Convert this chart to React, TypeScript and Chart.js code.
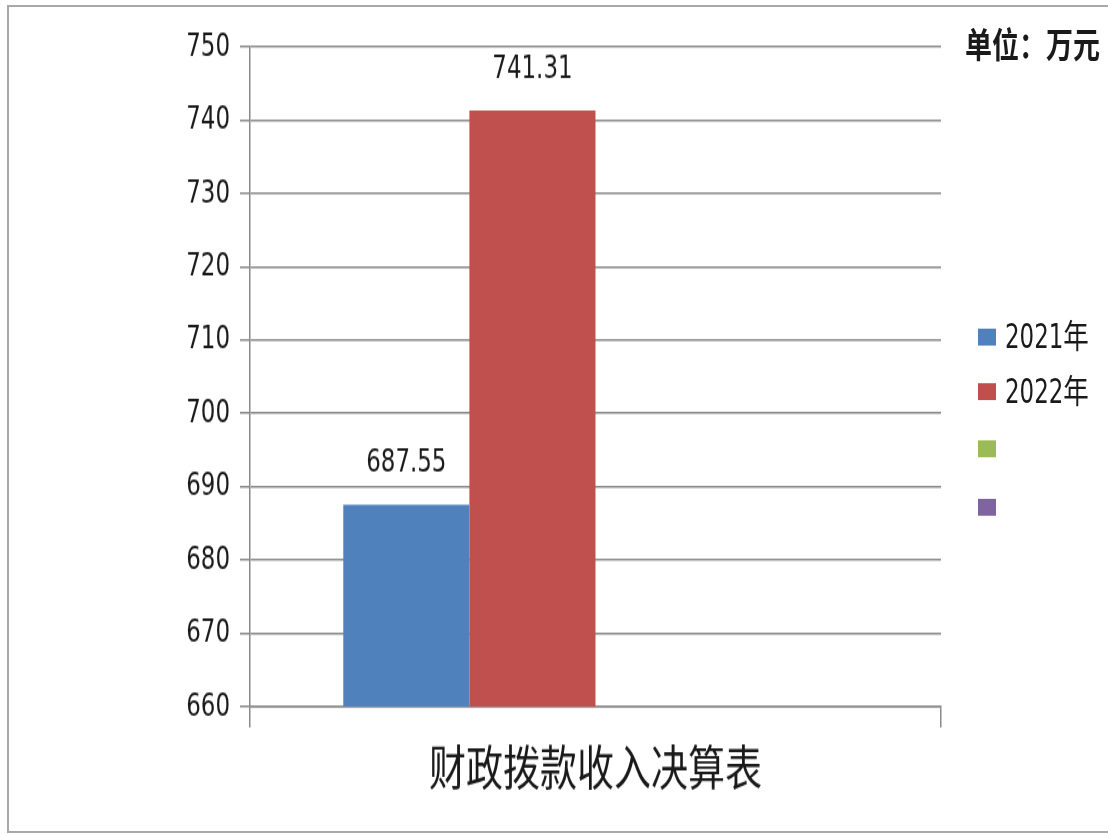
import React, { useEffect, useRef } from "react";
import { Chart, registerables } from "chart.js";

Chart.register(...registerables);

// ---- data ----
const categories = ["财政拨款收入决算表"];
const seriesNames = ["2021年", "2022年", "", ""];
const values2021: (number | null)[] = [687.55];
const values2022: (number | null)[] = [741.31];
const values3: (number | null)[] = [null];
const values4: (number | null)[] = [null];
const seriesColors = ["#4F81BD", "#C0504D", "#9BBB59", "#8064A2"];
const yMin = 660;
const yMax = 750;
const yStep = 10;
const unitText = "单位：万元";

// ---- layout ----
const W = 1108;
const H = 834;
const INNER_H = 642;
const SY = H / INNER_H;

const NUM_FONT = '"Liberation Sans Narrow", "DejaVu Sans Condensed", "Noto Sans CJK SC", sans-serif';
const CJK_FONT = '"Noto Sans CJK SC", sans-serif';
const TEXT = "#1a1a1a";
const GRID = "#8a8a8a";

const valueLabels = {
  id: "valueLabels",
  afterDatasetsDraw(chart: any) {
    const ctx = chart.ctx;
    ctx.save();
    ctx.font = `25.5px ${NUM_FONT}`;
    ctx.fillStyle = TEXT;
    ctx.textAlign = "center";
    ctx.textBaseline = "middle";
    chart.data.datasets.forEach((ds: any, di: number) => {
      const meta = chart.getDatasetMeta(di);
      meta.data.forEach((el: any, i: number) => {
        const v = ds.data[i];
        if (v === null || v === undefined) return;
        ctx.fillText(Number(v).toFixed(2), el.x, el.y - 32);
      });
    });
    ctx.restore();
  },
};

export default function App() {
  const ref = useRef<HTMLCanvasElement | null>(null);

  useEffect(() => {
    if (!ref.current) return;
    const seriesData = [values2021, values2022, values3, values4];
    const chart = new Chart(ref.current, {
      type: "bar",
      data: {
        labels: categories,
        datasets: seriesData.map((d, i) => ({
          label: seriesNames[i],
          data: d,
          backgroundColor: seriesColors[i],
          borderWidth: 0,
          barPercentage: 1,
          categoryPercentage: 0.73,
        })),
      },
      options: {
        responsive: false,
        animation: false,
        devicePixelRatio: 1,
        layout: { padding: { left: 0, right: W - 941, top: 36, bottom: 0 } },
        plugins: {
          legend: { display: false },
          tooltip: { enabled: false },
          title: { display: false },
        },
        scales: {
          x: {
            grid: {
              offset: true,
              drawOnChartArea: false,
              drawTicks: true,
              tickLength: 16,
              color: GRID,
              lineWidth: 1.5,
            },
            border: { display: true, color: GRID, width: 1.5 },
            ticks: {
              color: TEXT,
              font: { family: CJK_FONT, size: 37 },
              padding: 9,
              maxRotation: 0,
              autoSkip: false,
            },
            afterFit: (s: any) => {
              s.height = INNER_H - 544;
            },
          },
          y: {
            min: yMin,
            max: yMax,
            grid: {
              color: GRID,
              lineWidth: 1.5,
              drawTicks: true,
              tickLength: 10,
            },
            border: { display: true, color: GRID, width: 1.5 },
            ticks: {
              stepSize: yStep,
              color: TEXT,
              font: { family: NUM_FONT, size: 25.5 },
              padding: 10,
            },
            afterFit: (s: any) => {
              s.width = 250;
            },
          },
        },
      },
      plugins: [valueLabels],
    });
    return () => chart.destroy();
  }, []);

  const rowCenters = [259, 301, 345, 390];

  return (
    <div
      style={{
        position: "absolute",
        left: 0,
        top: 0,
        width: W,
        height: H,
        overflow: "hidden",
        background: "#ffffff",
      }}
    >
      <div
        style={{
          position: "absolute",
          left: 7,
          top: 5,
          width: W + 20,
          height: 828,
          border: "2px solid #a8a8a8",
          boxSizing: "border-box",
        }}
      />
      <div
        style={{
          position: "absolute",
          left: 0,
          top: 0,
          width: W,
          height: INNER_H,
          transform: `scaleY(${SY})`,
          transformOrigin: "top left",
        }}
      >
        <canvas ref={ref} width={W} height={INNER_H} style={{ display: "block" }} />
        <div
          style={{
            position: "absolute",
            left: 965,
            top: 20,
            font: `600 27px ${CJK_FONT}`,
            lineHeight: "27px",
            color: TEXT,
            whiteSpace: "nowrap",
          }}
        >
          {unitText}
        </div>
        {seriesNames.map((name, i) => (
          <div
            key={i}
            style={{
              position: "absolute",
              left: 978,
              top: rowCenters[i] - 20,
              height: 40,
              display: "flex",
              alignItems: "center",
              whiteSpace: "nowrap",
            }}
          >
            <span
              style={{
                display: "inline-block",
                width: 18,
                height: 13,
                background: seriesColors[i],
              }}
            />
            <span
              style={{
                marginLeft: 9,
                font: `25.5px ${NUM_FONT}`,
                color: TEXT,
                lineHeight: "40px",
              }}
            >
              {name}
            </span>
          </div>
        ))}
      </div>
    </div>
  );
}
